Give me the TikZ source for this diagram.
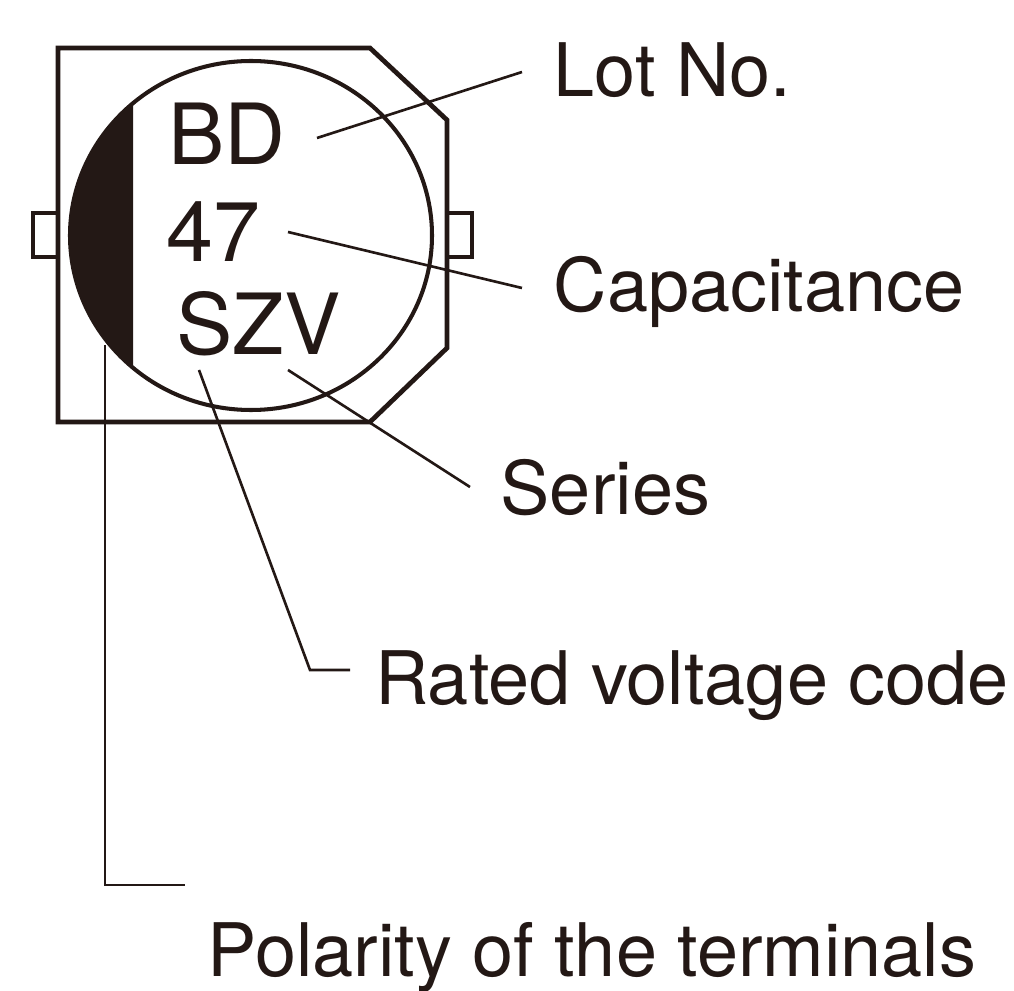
\documentclass[tikz,border=0pt]{standalone}
\usepackage{fontspec}
\setmainfont{TeX Gyre Heros}
\usetikzlibrary{positioning,calc}
\definecolor{inkk}{HTML}{231815}
\begin{document}
\begin{tikzpicture}[x=.01cm,y=-.01cm,every node/.style={font=\fontsize{21}{24}\selectfont,text=inkk,inner sep=0pt,anchor=base west},
 marking/.style={font=\fontsize{24}{30}\selectfont},
 leader/.style={draw=inkk,line width=.75pt},
 body/.style={draw=inkk,line width=1.35pt}]
\useasboundingbox (0,0) rectangle (1014,991);
\draw[body] (58,48)--(370,48)--(447,120)--(447,348)--(370,422)--(58,422)--cycle;
\draw[body,line width=1.1pt] (58,213)--(33,213)--(33,257)--(58,257);
\draw[body,line width=1.1pt] (447,213)--(472,213)--(472,257)--(447,257);
\draw[body,line width=1.15pt] (251,235.5) ellipse [x radius=181,y radius=174.5];
\fill[inkk] (133,103) arc[start angle=229.3,end angle=130.7,x radius=181,y radius=174.5] -- cycle;
% marking on the body
\node[marking] (bd) at (168,165) {BD};
\node[marking] (cap) at (166,262) {47};
\node[marking] (szv) at (176,355) {SZV};
% labels
\node (lot) at (553,97) {Lot No.};
\node (capacitance) at (553,312) {Capacitance};
\node (series) at (500,515) {Series};
\node (rated) at (375,705) {Rated voltage code};
\node (polarity) at (207,977) {Polarity of the terminals};
% leaders
\coordinate (lotend) at (522,72);
\coordinate (lotstart) at (317,138);
\coordinate (capend) at (522,288);
\coordinate (capstart) at (288,232);
\coordinate (serend) at (470,487);
\coordinate (serstart) at (288,370);
\coordinate (ratstart) at (199,370);
\coordinate (ratbend) at (310,670);
\coordinate (ratend) at (350,670);
\coordinate (polstart) at (105,345);
\coordinate (polbend) at (105,885);
\coordinate (polend) at (185,885);
\draw[leader] (lotstart)--(lotend);
\draw[leader] (capstart)--(capend);
\draw[leader] (serstart)--(serend);
\draw[leader] (ratstart)--(ratbend)--(ratend);
\draw[leader] (polstart)--(polbend)--(polend);
\end{tikzpicture}
\end{document}
